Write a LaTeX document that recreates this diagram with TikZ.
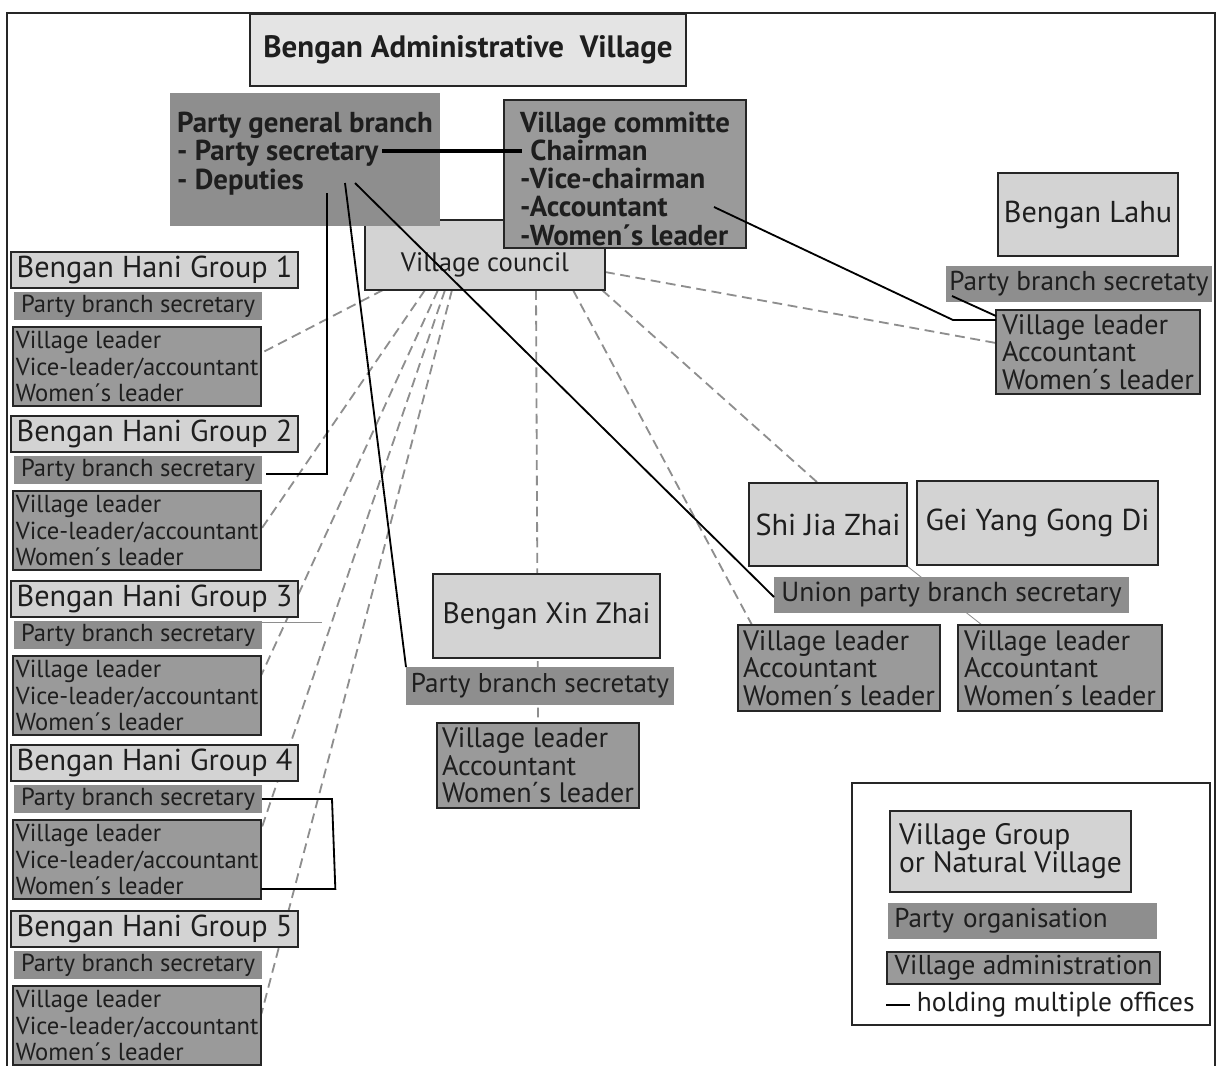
\documentclass[tikz,border=0pt]{standalone}
\usepackage{fontspec}
\setmainfont{PT Sans}
\usetikzlibrary{calc,backgrounds}

\definecolor{boxedge}{HTML}{262626}
\definecolor{inkgray}{HTML}{1E1E1E}
\definecolor{titlefill}{HTML}{E4E4E4}
\definecolor{villagefill}{HTML}{D3D3D3}
\definecolor{partyfill}{HTML}{8E8E8E}
\definecolor{adminfill}{HTML}{9A9A9A}
\definecolor{linkgray}{HTML}{8E8E8E}

\tikzset{
  every node/.style={outer sep=0pt, inner sep=2pt, text=inkgray},
  wh/.style 2 args={minimum width=#1*0.025cm, minimum height=#2*0.025cm, anchor=north west},
  village/.style={draw=boxedge, line width=1.4pt, fill=villagefill, font=\fontsize{21.5}{24}\selectfont},
  party/.style={fill=partyfill, font=\fontsize{17.5}{19}\selectfont},
  admin/.style={draw=boxedge, line width=1.4pt, fill=adminfill, align=left, font=\fontsize{17.5}{19}\selectfont},
  office/.style={draw=black, line width=1.3pt},
  link/.style={draw=linkgray, line width=1.3pt, dash pattern=on 7pt off 4pt},
}

\begin{document}
\begin{tikzpicture}[x=0.025cm, y=-0.025cm]
\useasboundingbox (0,0) rectangle (1218,1066);
\draw[line width=0.8pt, draw=boxedge] (7,1066) -- (7,13) -- (1215,13) -- (1215,1066);

% top of the administrative village
\node[village, fill=titlefill, font=\bfseries\fontsize{22}{24}\selectfont, wh={436}{72}] (bav) at (250,14) {Bengan Administrative\ \ Village};
\node[village, font=\fontsize{19}{20}\selectfont, wh={240}{70}] (vc) at (365,220) {\smash{\raisebox{-12pt}{Village council}}};
\node[party, align=left, font=\bfseries\fontsize{20.5}{20}\selectfont, text depth=12.5pt, wh={270}{133}] (pg) at (170,93) {Party general branch\\- Party secretary\\- Deputies};
\node[admin, font=\bfseries\fontsize{20.5}{20}\selectfont, text depth=-2pt, wh={242}{148}] (vcm) at (504,100) {\rule{0pt}{21pt}Village committe\\\phantom{-}Chairman\\-Vice-chairman\\-Accountant\\-Women´s leader};

% Hani groups
\foreach \i/\y in {1/252, 2/416, 3/581, 4/745, 5/911} {
  \node[village, wh={287}{36}] (g\i-t) at (11,\y) {Bengan Hani Group \i};
  \node[party, wh={248}{28}] (g\i-p) at (14,\y+40) {Party branch secretary};
  \node[admin, wh={248}{79}] (g\i-a) at (13,\y+75) {Village leader\\Vice-leader/accountant\\Women´s leader};
}

% Bengan Lahu
\node[village, wh={180}{83}] (lh) at (998,173) {Bengan Lahu};
\node[party, font=\fontsize{19.4}{20}\selectfont, wh={266}{36}] (lhp) at (946,266) {Party branch secretaty};
\node[admin, font=\fontsize{20}{19.5}\selectfont, wh={204}{84}] (lha) at (996,310) {Village leader\\Accountant\\Women´s leader};

% Shi Jia Zhai and Gei Yang Gong Di
\node[village, wh={158}{83}] (sjz) at (749,483) {Shi Jia Zhai};
\node[village, wh={241}{84}] (gyg) at (917,481) {Gei Yang Gong Di};
\node[party, font=\fontsize{19.6}{20}\selectfont, wh={355}{36}] (ups) at (774,577) {Union party branch secretary};
\node[admin, font=\fontsize{20}{19.5}\selectfont, wh={202}{86}] (ada) at (738,625) {Village leader\\Accountant\\Women´s leader};
\node[admin, font=\fontsize{20}{19.5}\selectfont, wh={204}{86}] (adb) at (958,625) {Village leader\\Accountant\\Women´s leader};

% Bengan Xin Zhai
\node[village, font=\fontsize{21}{24}\selectfont, wh={227}{84}] (xz) at (433,574) {Bengan Xin Zhai};
\node[party, font=\fontsize{19.3}{20}\selectfont, wh={268}{38}] (xzp) at (406,667) {Party branch secretaty};
\node[admin, font=\fontsize{20}{19.5}\selectfont, wh={202}{85}] (xza) at (437,723) {Village leader\\Accountant\\Women´s leader};

% legend
\node[draw=boxedge, line width=1.2pt, fill=white, wh={358}{242}] (lgd) at (852,783) {};
\node[village, align=left, font=\fontsize{21}{20}\selectfont, wh={241}{81}] (lg1) at (890,811) {Village Group\\or Natural Village};
\node[party, font=\fontsize{19.3}{20}\selectfont, align=left, text width=6.4cm, wh={269}{36}] (lg2) at (888,903) {Party organisation};
\node[admin, font=\fontsize{19.4}{20}\selectfont, wh={273}{32}] (lg3) at (887,952) {Village administration};
\node[anchor=west, font=\fontsize{19.5}{20}\selectfont] (lg4) at (914,1005) {holding multiple offices};
\draw[office] ($(lg4.west)+(-28,0)$) -- ($(lg4.west)+(-4,0)$);

% council links
\begin{pgfonlayer}{background}
\foreach \i/\dx/\dy in {1/18/26, 2/60/38, 3/73/19, 4/80/9, 5/87/28}
  \draw[link] ($(vc.south west)+(\dx,0)$) -- ($(g\i-a.north east)+(0,\dy)$);
\draw[link] ($(vc.south west)+(171,0)$) -- (xza.north);
\draw[link] ($(vc.south west)+(208,0)$) -- ($(ada.north west)+(14,0)$);
\draw[link] ($(vc.south west)+(237,0)$) -- ($(sjz.north west)+(69,0)$);
\draw[link] ($(vc.north east)+(0,52)$) -- ($(lha.north west)+(0,33)$);
\draw[draw=linkgray, line width=0.6pt] (sjz.south east) -- ($(adb.north west)+(24,0)$);
\draw[draw=linkgray, line width=0.6pt] ($(g3-p.north east)+(0,1)$) -- ++(60,0);
\end{pgfonlayer}

% holding multiple offices
\draw[office, line width=2.6pt] ($(pg.north west)+(212,58)$) -- ($(vcm.north west)+(18,51)$);
\draw[office] ($(pg.north west)+(157,100)$) |- ($(g2-p.north east)+(4,18)$);
\draw[office] ($(pg.north west)+(175,90)$) -- (xzp.north west);
\draw[office] ($(pg.north west)+(185,90)$) -- ($(ups.north west)+(0,20)$);
\draw[office] ($(vcm.north west)+(210,107)$) -- ($(lha.north west)+(-43,10)$) -- ($(lha.north west)+(0,10)$);
\draw[office] ($(lhp.south west)+(6,-6)$) -- ($(lha.north west)+(0,6)$);
\draw[office] (g4-p.east) -- ++(70,0) -- ($(g4-a.south east)+(74,-10)$) -- ($(g4-a.south east)+(0,-10)$);
\end{tikzpicture}
\end{document}
